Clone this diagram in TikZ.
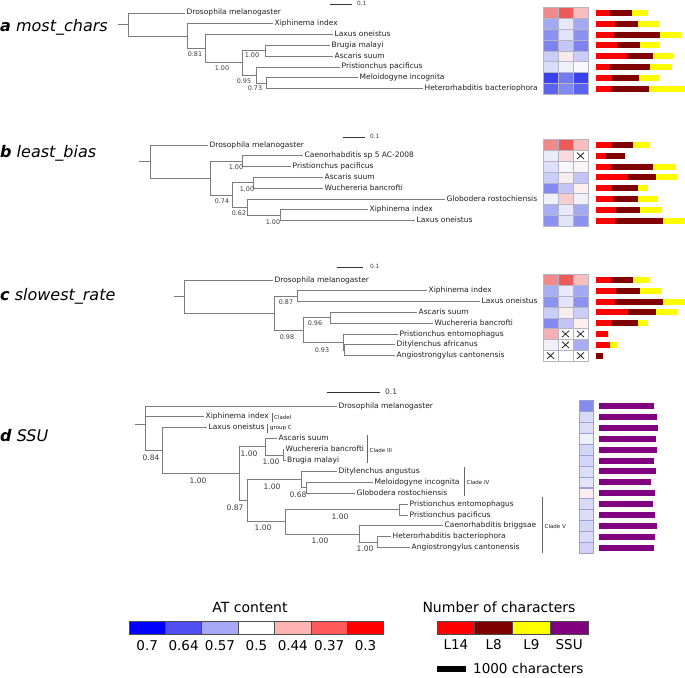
\documentclass[tikz,border=0pt]{standalone}
\usepackage{fontspec}
\setmainfont{DejaVu Sans}
\definecolor{treegray}{HTML}{7C7C7C}
\definecolor{txt}{HTML}{1E1E1E}
\definecolor{suptxt}{HTML}{3A3A3A}
\definecolor{hmgrid}{HTML}{B4B4C4}
\definecolor{hmgridd}{HTML}{9AA0D8}
\definecolor{cLf}{HTML}{FF0000}
\definecolor{cLe}{HTML}{800000}
\definecolor{cLn}{HTML}{FFFF00}
\definecolor{cSSU}{HTML}{800080}
\newcommand\tipfont{\fontsize{7.5}{8}\selectfont}
\newcommand\supfont{\fontsize{6.4}{7}\selectfont}
\newcommand\sbfont{\fontsize{5.8}{6}\selectfont}
\newcommand\supdfont{\fontsize{7.5}{8}\selectfont}
\newcommand\cladefont{\fontsize{5.5}{6}\selectfont}
\newcommand\panelfont{\fontsize{16}{18}\selectfont}
\newcommand\legfont{\fontsize{14}{16}\selectfont}
\newcommand\legnumfont{\fontsize{13.5}{15}\selectfont}
\def\hcX{X}
\newcommand\hcell[5]{% x, y, width, hex or X, grid style
  \def\hctest{#4}%
  \ifx\hctest\hcX
    \filldraw[#5, fill=white] (#1,#2-5.4) rectangle ++(#3,10.8);
    \draw[xmark] (#1+4,#2-3.2) -- (#1+#3-4,#2+3.2) (#1+4,#2+3.2) -- (#1+#3-4,#2-3.2);
  \else
    \definecolor{hctmp}{HTML}{#4}%
    \filldraw[#5, fill=hctmp] (#1,#2-5.4) rectangle ++(#3,10.8);
  \fi}
\newcommand\hrow[4]{\hcell{543}{#1}{15}{#2}{hmline}\hcell{558}{#1}{15}{#3}{hmline}\hcell{573}{#1}{15}{#4}{hmline}}
\newcommand\brow[4]{%
  \fill[cLf] (596,#1-3) rectangle (#2,#1+3);
  \fill[cLe] (#2,#1-3) rectangle (#3,#1+3);
  \fill[cLn] (#3,#1-3) rectangle (#4,#1+3);}
\newcommand\drow[3]{\hcell{579}{#1}{14}{#2}{hmlined}\fill[cSSU] (599,#1-3) rectangle (#3,#1+3);}
\newcommand\tleaf[4]{\node[leaf] (#1) at (#2,#3) {#4};}
\begin{document}
\begin{tikzpicture}[x=1pt,y=-1pt,
  br/.style={draw=treegray, line width=0.9pt},
  leaf/.style={anchor=west, inner xsep=1.5pt, inner ysep=0pt, font=\tipfont, text height=5.6pt, text depth=1.6pt, text=txt},
  sup/.style={font=\supfont, text=suptxt, inner sep=0pt},
  supd/.style={font=\supdfont, text=suptxt, inner sep=0pt},
  hmline/.style={draw=hmgrid, line width=0.5pt},
  hmlined/.style={draw=hmgridd, line width=0.5pt},
  xmark/.style={draw=black!85, line width=0.8pt},
  sbar/.style={draw=black!80, line width=0.9pt},
  sbtext/.style={font=\sbfont, text=suptxt, anchor=west, inner sep=0pt},
  panel/.style={font=\panelfont, anchor=base west, inner sep=0pt, text=black},
  cbar/.style={draw=black!60, line width=0.5pt},
  cladetxt/.style={font=\cladefont, anchor=west, inner sep=0pt, text=txt},
  legcell/.style={draw=black!70, line width=0.7pt}
]
\useasboundingbox (0,0) rectangle (685,677);

% ================= panel a =================
\node[panel] (pa) at (0,31.5) {\textbf{\textit{a}} \textit{most\_chars}};
\coordinate (aS) at (118,24.65);
\coordinate (aR) at (128,24.65);
\coordinate (a1) at (187,36.3);
\coordinate (a2) at (205,48.8);
\coordinate (a3) at (242,62.95);
\coordinate (a4) at (265,50.8);
\coordinate (a5) at (256,75.1);
\coordinate (a6) at (266,83.2);
\tleaf{aDro}{185}{13}{Drosophila melanogaster}
\tleaf{aXip}{273}{23.8}{Xiphinema index}
\tleaf{aLax}{333}{34.6}{Laxus oneistus}
\tleaf{aBru}{330}{45.4}{Brugia malayi}
\tleaf{aAsc}{333}{56.2}{Ascaris suum}
\tleaf{aPri}{340}{67}{Pristionchus pacificus}
\tleaf{aMel}{358}{77.8}{Meloidogyne incognita}
\tleaf{aHet}{423}{88.6}{Heterorhabditis bacteriophora}
\draw[br] (aS) -- (aR);
\draw[br] (aR) |- (aDro.west);
\draw[br] (aR) |- (a1);
\draw[br] (a1) |- (aXip.west);
\draw[br] (a1) |- (a2);
\draw[br] (a2) |- (aLax.west);
\draw[br] (a2) |- (a3);
\draw[br] (a3) |- (a4);
\draw[br] (a3) |- (a5);
\draw[br] (a4) |- (aBru.west);
\draw[br] (a4) |- (aAsc.west);
\draw[br] (a5) |- (aPri.west);
\draw[br] (a5) |- (a6);
\draw[br] (a6) |- (aMel.west);
\draw[br] (a6) |- (aHet.west);
\node[sup] (sa1) at (195,54.3) {0.81};
\node[sup] (sa2) at (222,68.2) {1.00};
\node[sup] (sa3) at (252,55.5) {1.00};
\node[sup] (sa4) at (244,81.5) {0.95};
\node[sup] (sa5) at (255,88.5) {0.73};
\coordinate (asb1) at (330,4);
\coordinate (asb2) at (352,4);
\draw[sbar] (asb1) -- (asb2);
\node[sbtext] (asbt) at (357,3.8) {0.1};
\hrow{13}{F08A8A}{EE5A5A}{F7BEBE}
\hrow{23.8}{A4AAF2}{E8E8F8}{A4AAF2}
\hrow{34.6}{8C92F0}{E2E3F8}{8C92F0}
\hrow{45.4}{7C82EE}{C2C5F6}{7C82EE}
\hrow{56.2}{CACDF6}{F8EAEC}{CACDF6}
\hrow{67}{DADCF8}{F0F0FA}{F9F8FC}
\hrow{77.8}{3A42EE}{737AEE}{3A42EE}
\hrow{88.6}{5C63EE}{8289F0}{5C63EE}
\brow{13}{610}{632}{648}
\brow{23.8}{615}{638}{659}
\brow{34.6}{614}{660}{681}
\brow{45.4}{617}{640}{659}
\brow{56.2}{627}{653}{673}
\brow{67}{610}{650}{672}
\brow{77.8}{612}{639}{659}
\brow{88.6}{611}{649}{685}

% ================= panel b =================
\node[panel] (pb) at (0,157) {\textbf{\textit{b}} \textit{least\_bias}};
\coordinate (bS) at (139,161.55);
\coordinate (bR) at (150,161.55);
\coordinate (b1) at (210,178.1);
\coordinate (bCP) at (242,161.2);
\coordinate (b2) at (232,195);
\coordinate (bAW) at (253,182.8);
\coordinate (bG) at (247,207.1);
\coordinate (bXL) at (280,215.2);
\tleaf{bDro}{208}{145}{Drosophila melanogaster}
\tleaf{bCae}{303}{155.8}{Caenorhabditis sp 5 AC-2008}
\tleaf{bPri}{291}{166.6}{Pristionchus pacificus}
\tleaf{bAsc}{323}{177.4}{Ascaris suum}
\tleaf{bWuc}{323}{188.2}{Wuchereria bancrofti}
\tleaf{bGlo}{445}{199}{Globodera rostochiensis}
\tleaf{bXip}{368}{209.8}{Xiphinema index}
\tleaf{bLax}{415}{220.6}{Laxus oneistus}
\draw[br] (bS) -- (bR);
\draw[br] (bR) |- (bDro.west);
\draw[br] (bR) |- (b1);
\draw[br] (b1) |- (bCP);
\draw[br] (b1) |- (b2);
\draw[br] (bCP) |- (bCae.west);
\draw[br] (bCP) |- (bPri.west);
\draw[br] (b2) |- (bAW);
\draw[br] (b2) |- (bG);
\draw[br] (bAW) |- (bAsc.west);
\draw[br] (bAW) |- (bWuc.west);
\draw[br] (bG) |- (bGlo.west);
\draw[br] (bG) |- (bXL);
\draw[br] (bXL) |- (bXip.west);
\draw[br] (bXL) |- (bLax.west);
\node[sup] (sb1) at (236,167) {1.00};
\node[sup] (sb2) at (247,189) {1.00};
\node[sup] (sb3) at (222,201) {0.74};
\node[sup] (sb4) at (239,213.5) {0.62};
\node[sup] (sb5) at (273,222) {1.00};
\coordinate (bsb1) at (343,137);
\coordinate (bsb2) at (365,137);
\draw[sbar] (bsb1) -- (bsb2);
\node[sbtext] (bsbt) at (370,136.8) {0.1};
\hrow{145}{F08A8A}{EE5A5A}{F7BEBE}
\hrow{155.8}{ECECF8}{F8DADE}{X}
\hrow{166.6}{DEDFF8}{F8F8FC}{FCF4F4}
\hrow{177.4}{CACDF6}{F8ECEE}{C2C5F6}
\hrow{188.2}{8289F0}{C2C5F6}{FCF0F0}
\hrow{199}{F0F0FA}{F8CDD0}{F0F0FA}
\hrow{209.8}{A8AEF4}{E8E8F8}{A4AAF2}
\hrow{220.6}{8C92F0}{E4E4F8}{8C92F0}
\brow{145}{612}{633}{650}
\brow{155.8}{606}{625}{625}
\brow{166.6}{611}{653}{676}
\brow{177.4}{628}{656}{677}
\brow{188.2}{612}{638}{648}
\brow{199}{613}{638}{658}
\brow{209.8}{616}{640}{662}
\brow{220.6}{615}{663}{685}

% ================= panel c =================
\node[panel] (pc) at (0,300.5) {\textbf{\textit{c}} \textit{slowest\_rate}};
\coordinate (cS) at (174,296.55);
\coordinate (cR) at (184,296.55);
\coordinate (c1) at (274,313.1);
\coordinate (cXL) at (297,296.2);
\coordinate (c2) at (303,330);
\coordinate (cAW) at (330,317.8);
\coordinate (cP) at (343,342.1);
\coordinate (cDA) at (344,350.2);
\tleaf{cDro}{273}{280}{Drosophila melanogaster}
\tleaf{cXip}{427}{290.8}{Xiphinema index}
\tleaf{cLax}{480}{301.6}{Laxus oneistus}
\tleaf{cAsc}{417}{312.4}{Ascaris suum}
\tleaf{cWuc}{433}{323.2}{Wuchereria bancrofti}
\tleaf{cPen}{398}{334}{Pristionchus entomophagus}
\tleaf{cDit}{395}{344.8}{Ditylenchus africanus}
\tleaf{cAng}{395}{355.6}{Angiostrongylus cantonensis}
\draw[br] (cS) -- (cR);
\draw[br] (cR) |- (cDro.west);
\draw[br] (cR) |- (c1);
\draw[br] (c1) |- (cXL);
\draw[br] (c1) |- (c2);
\draw[br] (cXL) |- (cXip.west);
\draw[br] (cXL) |- (cLax.west);
\draw[br] (c2) |- (cAW);
\draw[br] (c2) |- (cP);
\draw[br] (cAW) |- (cAsc.west);
\draw[br] (cAW) |- (cWuc.west);
\draw[br] (cP) |- (cPen.west);
\draw[br] (cP) |- (cDA);
\draw[br] (cDA) |- (cDit.west);
\draw[br] (cDA) |- (cAng.west);
\node[sup] (sc1) at (286,302) {0.87};
\node[sup] (sc2) at (315,323.5) {0.96};
\node[sup] (sc3) at (287,337) {0.98};
\node[sup] (sc4) at (322,350.5) {0.93};
\coordinate (csb1) at (337,267);
\coordinate (csb2) at (363,267);
\draw[sbar] (csb1) -- (csb2);
\node[sbtext] (csbt) at (370,266.8) {0.1};
\hrow{280}{F08A8A}{EE5A5A}{F7BEBE}
\hrow{290.8}{A8AEF4}{E8E8F8}{A4AAF2}
\hrow{301.6}{8C92F0}{E4E4F8}{8C92F0}
\hrow{312.4}{CACDF6}{F8ECEE}{CACDF6}
\hrow{323.2}{8289F0}{C2C5F6}{FCF0F0}
\hrow{334}{F4B2B6}{X}{X}
\hrow{344.8}{F0F0FA}{X}{A8AEF4}
\hrow{355.6}{X}{FFFFFF}{X}
\brow{280}{611}{633}{650}
\brow{290.8}{616}{640}{662}
\brow{301.6}{615}{663}{685}
\brow{312.4}{628}{656}{677}
\brow{323.2}{612}{638}{648}
\brow{334}{608}{608}{608}
\brow{344.8}{610}{610}{617}
\brow{355.6}{596}{603}{603}

% ================= panel d =================
\node[panel] (pd) at (0,441.5) {\textbf{\textit{d}} \textit{SSU}};
\coordinate (dS) at (135,424);
\coordinate (dR) at (145,424);
\coordinate (dL) at (162,450.8);
\coordinate (d3) at (239,473.8);
\coordinate (dC3) at (265,446.9);
\coordinate (dWB) at (283,455);
\coordinate (d45) at (247,500.7);
\coordinate (dC4) at (301,479.6);
\coordinate (dMG) at (306,487.8);
\coordinate (dC5) at (285,521.8);
\coordinate (dPP) at (399,509.6);
\coordinate (dCH) at (359,534.1);
\coordinate (dHA) at (377,542.3);
\tleaf{dDro}{337}{406}{Drosophila melanogaster}
\tleaf{dXip}{204}{416.9}{Xiphinema index}
\tleaf{dLax}{207}{427.8}{Laxus oneistus}
\tleaf{dAsc}{277}{438.7}{Ascaris suum}
\tleaf{dWuc}{284}{449.6}{Wuchereria bancrofti}
\tleaf{dBru}{285.5}{460.5}{Brugia malayi}
\tleaf{dDit}{337}{471.4}{Ditylenchus angustus}
\tleaf{dMel}{373}{482.3}{Meloidogyne incognita}
\tleaf{dGlo}{355}{493.2}{Globodera rostochiensis}
\tleaf{dPen}{408}{504.1}{Pristionchus entomophagus}
\tleaf{dPpa}{408}{515}{Pristionchus pacificus}
\tleaf{dCbr}{443}{525.9}{Caenorhabditis briggsae}
\tleaf{dHet}{391}{536.8}{Heterorhabditis bacteriophora}
\tleaf{dAng}{410}{547.7}{Angiostrongylus cantonensis}
\draw[br] (dS) -- (dR);
\draw[br] (dR) |- (dDro.west);
\draw[br] (dR) |- (dXip.west);
\draw[br] (dR) |- (dL);
\draw[br] (dL) |- (dLax.west);
\draw[br] (dL) |- (d3);
\draw[br] (d3) |- (dC3);
\draw[br] (d3) |- (d45);
\draw[br] (dC3) |- (dAsc.west);
\draw[br] (dC3) |- (dWB);
\draw[br] (dWB) |- (dWuc.west);
\draw[br] (dWB) |- (dBru.west);
\draw[br] (d45) |- (dC4);
\draw[br] (d45) |- (dC5);
\draw[br] (dC4) |- (dDit.west);
\draw[br] (dC4) |- (dMG);
\draw[br] (dMG) |- (dMel.west);
\draw[br] (dMG) |- (dGlo.west);
\draw[br] (dC5) |- (dPP);
\draw[br] (dC5) |- (dCH);
\draw[br] (dPP) |- (dPen.west);
\draw[br] (dPP) |- (dPpa.west);
\draw[br] (dCH) |- (dCbr.west);
\draw[br] (dCH) |- (dHA);
\draw[br] (dHA) |- (dHet.west);
\draw[br] (dHA) |- (dAng.west);
\node[supd] (sd1) at (151,458) {0.84};
\node[supd] (sd2) at (198,480.5) {1.00};
\node[supd] (sd3) at (249,454) {1.00};
\node[supd] (sd4) at (271,462) {1.00};
\node[supd] (sd5) at (235,507.5) {0.87};
\node[supd] (sd6) at (272,487) {1.00};
\node[supd] (sd7) at (298,495) {0.68};
\node[supd] (sd8) at (263,528) {1.00};
\node[supd] (sd9) at (340,516.5) {1.00};
\node[supd] (sd10) at (320,541) {1.00};
\node[supd] (sd11) at (365,549) {1.00};
\coordinate (dsb1) at (327,392);
\coordinate (dsb2) at (380,392);
\draw[sbar] (dsb1) -- (dsb2);
\node[sbtext, font=\supdfont] (dsbt) at (385,391.5) {0.1};
% clade annotations
\coordinate (kI1) at (272,412.5);
\coordinate (kI2) at (272,421.5);
\draw[cbar] (kI1) -- (kI2);
\node[cladetxt] (kIt) at (274,417) {CladeI};
\coordinate (kC1) at (267,423.5);
\coordinate (kC2) at (267,432.5);
\draw[cbar] (kC1) -- (kC2);
\node[cladetxt] (kCt) at (270,428) {group C};
\coordinate (k31) at (367,435);
\coordinate (k32) at (367,463);
\draw[cbar] (k31) -- (k32);
\node[cladetxt] (k3t) at (369.5,450) {Clade III};
\coordinate (k41) at (464,467);
\coordinate (k42) at (464,496);
\draw[cbar] (k41) -- (k42);
\node[cladetxt] (k4t) at (466.5,482) {Clade IV};
\coordinate (k51) at (542,497);
\coordinate (k52) at (542,553);
\draw[cbar] (k51) -- (k52);
\node[cladetxt] (k5t) at (544.5,526) {Clade V};
\drow{406}{858CF0}{654}
\drow{416.9}{D8DAF8}{657}
\drow{427.8}{DCDEF8}{658}
\drow{438.7}{F0F0FA}{656}
\drow{449.6}{D4D6F8}{657}
\drow{460.5}{D4D6F8}{654}
\drow{471.4}{DCDEF8}{656}
\drow{482.3}{E4E4F8}{651}
\drow{493.2}{FCEEEE}{655}
\drow{504.1}{D8DAF8}{653}
\drow{515}{DCDEF8}{655}
\drow{525.9}{D4D6F8}{657}
\drow{536.8}{D8DAF8}{655}
\drow{547.7}{D0D2F8}{654}

% ================= legends =================
\node[font=\legfont, inner sep=0pt] (atT) at (250,607) {AT content};
\foreach \i/\c/\lab in {0/0000FF/0.7, 1/5050F2/0.64, 2/A8A8F8/0.57, 3/FFFFFF/0.5, 4/FFB4B4/0.44, 5/FF5858/0.37, 6/FF0000/0.3}{
  \definecolor{lc}{HTML}{\c}
  \filldraw[legcell, fill=lc] (129+36.4*\i,621) rectangle ++(36.4,13);
  \node[font=\legnumfont, inner sep=0pt] (atn\i) at (147.2+36.4*\i,645.5) {\lab};
}
\node[font=\legfont, inner sep=0pt] (ncT) at (499,607) {Number of characters};
\foreach \i/\c/\lab in {0/FF0000/L14, 1/800000/L8, 2/FFFF00/L9, 3/800080/SSU}{
  \definecolor{lc}{HTML}{\c}
  \filldraw[legcell, fill=lc] (437+37.75*\i,621) rectangle ++(37.75,13);
  \node[font=\legnumfont, inner sep=0pt] (ncn\i) at (455.9+37.75*\i,644.5) {\lab};
}
\coordinate (kb1) at (437,668.5);
\coordinate (kb2) at (466,668.5);
\draw[line width=6pt, black] (kb1) -- (kb2);
\node[font=\fontsize{13.5}{15}\selectfont, anchor=west, inner sep=0pt] (kbt) at (473,668) {1000 characters};
\end{tikzpicture}
\end{document}
